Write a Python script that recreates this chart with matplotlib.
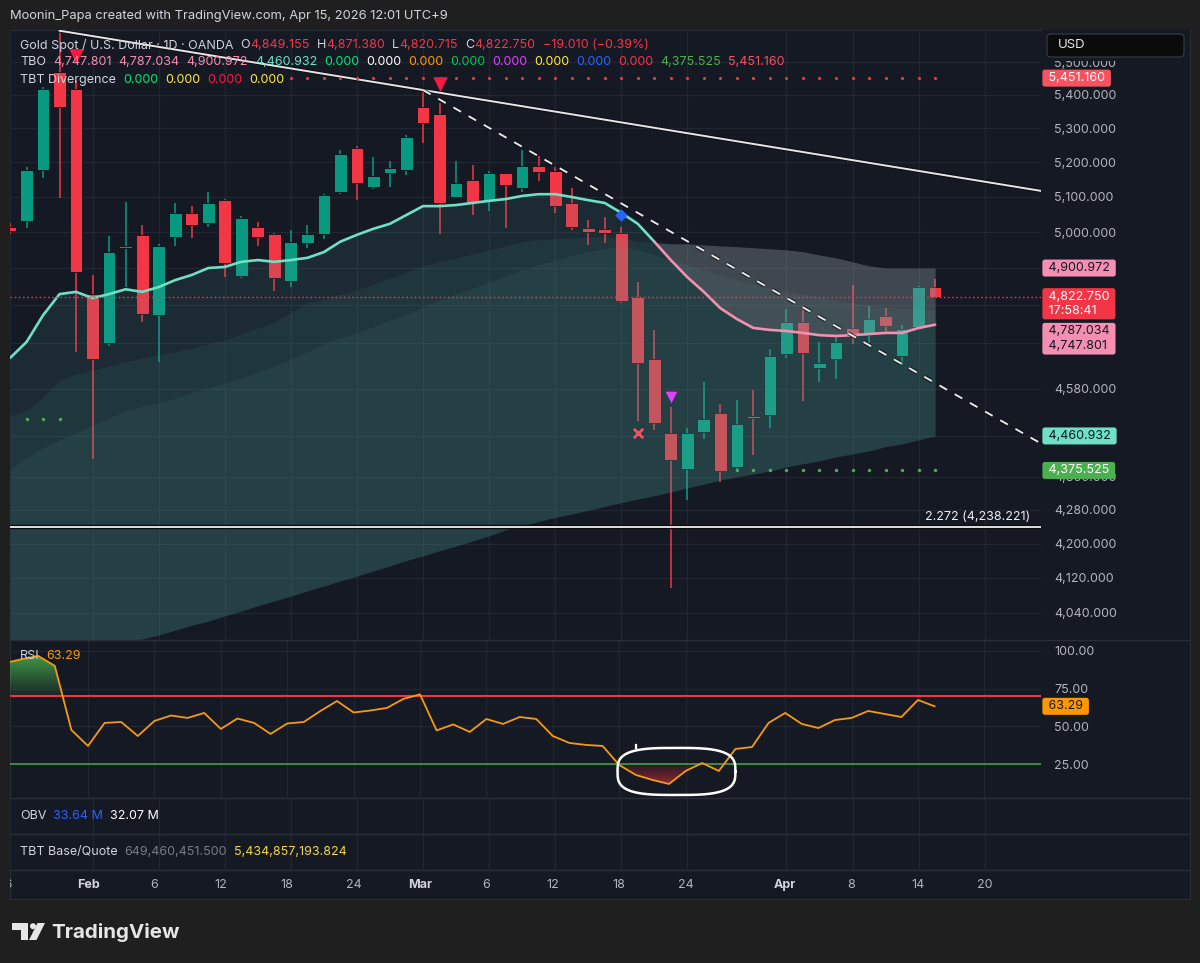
import numpy as np
import matplotlib
matplotlib.use("Agg")
import matplotlib.pyplot as plt
import matplotlib.ticker as mticker
import matplotlib.patheffects as pe
from matplotlib.path import Path
from matplotlib.patches import Rectangle, Polygon, Circle, FancyBboxPatch
from matplotlib.colors import to_rgb

plt.rcParams['font.family'] = ['Inter', 'DejaVu Sans']

# ---------------- data ----------------
dates = ["Jan 26", "Jan 27", "Jan 28", "Jan 29", "Jan 30", "Feb 2", "Feb 3", "Feb 4", "Feb 5", "Feb 6",
         "Feb 9", "Feb 10", "Feb 11", "Feb 12", "Feb 13", "Feb 16", "Feb 17", "Feb 18", "Feb 19", "Feb 20",
         "Feb 23", "Feb 24", "Feb 25", "Feb 26", "Feb 27", "Mar 2", "Mar 3", "Mar 4", "Mar 5", "Mar 6",
         "Mar 9", "Mar 10", "Mar 11", "Mar 12", "Mar 13", "Mar 16", "Mar 17", "Mar 18", "Mar 19", "Mar 20",
         "Mar 23", "Mar 24", "Mar 25", "Mar 26", "Mar 27", "Mar 30", "Mar 31", "Apr 1", "Apr 2", "Apr 6",
         "Apr 7", "Apr 8", "Apr 9", "Apr 10", "Apr 13", "Apr 14", "Apr 15"]
opens = [5015, 5032, 5178, 5470, 5418, 4830, 4699, 4957, 4993, 4773,
         4987, 5055, 5027, 5091, 4879, 5015, 4996, 4866, 4971, 4996,
         5114, 5242, 5129, 5169, 5178, 5364, 5343, 5100, 5149, 5091,
         5169, 5126, 5189, 5175, 5083, 5013, 5010, 4999, 4822, 4658,
         4468, 4379, 4471, 4518, 4384, 4511, 4514, 4670, 4754, 4634,
         4658, 4739, 4720, 4770, 4665, 4741, 4849.155]
highs = [5025, 5187, 5424, 5598, 5445, 4882, 4990, 5086, 5021, 4968,
         5083, 5074, 5114, 5094, 5046, 5029, 4999, 5007, 5021, 5108,
         5236, 5248, 5215, 5204, 5280, 5415, 5376, 5204, 5192, 5175,
         5169, 5236, 5218, 5187, 5126, 5035, 5043, 5015, 4863, 4734,
         4534, 4481, 4598, 4541, 4552, 4577, 4684, 4789, 4798, 4702,
         4715, 4855, 4798, 4792, 4747, 4852, 4871.380]
lows = [4995, 5013, 5155, 5097, 4676, 4404, 4691, 4849, 4754, 4650,
        4962, 4985, 5015, 4876, 4873, 4962, 4838, 4849, 4957, 4982,
        5108, 5091, 5123, 5129, 5163, 5257, 4996, 5100, 5049, 5060,
        5013, 5114, 5146, 5055, 5007, 4965, 4971, 4806, 4498, 4476,
        4096, 4304, 4453, 4347, 4372, 4414, 4481, 4660, 4549, 4598,
        4606, 4697, 4699, 4728, 4642, 4738, 4820.715]
closes = [5005, 5178, 5418, 5364, 4891, 4658, 4946, 4962, 4776, 4962,
          5055, 5021, 5083, 4915, 5040, 4987, 4874, 4973, 4996, 5105,
          5224, 5140, 5160, 5184, 5274, 5316, 5083, 5140, 5083, 5169,
          5134, 5189, 5172, 5074, 5015, 5002, 4999, 4811, 4647, 4493,
          4401, 4468, 4503, 4374, 4491, 4506, 4665, 4754, 4673, 4647,
          4702, 4718, 4763, 4744, 4736, 4849, 4822.750]

# TBO lines
tbo_fast = [4660, 4702, 4773, 4830, 4836, 4819, 4830, 4843, 4836, 4849,
            4868, 4882, 4901, 4904, 4918, 4923, 4918, 4923, 4929, 4945,
            4974, 4993, 5010, 5024, 5049, 5074, 5074, 5077, 5083, 5089,
            5094, 5103, 5108, 5108, 5100, 5091, 5083, 5055, 5024, 4974,
            4923, 4876, 4836, 4792, 4763, 4739, 4734, 4731, 4726, 4720,
            4718, 4720, 4723, 4726, 4726, 4739, 4747.801]
tbo_upper = [4511, 4526, 4559, 4603, 4618, 4629, 4639, 4650, 4660, 4668,
             4676, 4686, 4697, 4707, 4723, 4739, 4755, 4781, 4806, 4816,
             4830, 4841, 4857, 4873, 4890, 4907, 4918, 4929, 4940, 4951,
             4962, 4974, 4979, 4982, 4985, 4987, 4987, 4985, 4974, 4971,
             4968, 4968, 4965, 4962, 4960, 4957, 4954, 4951, 4946, 4937,
             4929, 4918, 4907, 4901, 4901, 4901, 4900.972]
tbo_mid = [4377, 4406, 4431, 4451, 4468, 4488, 4506, 4524, 4536, 4544,
           4557, 4570, 4582, 4595, 4608, 4624, 4639, 4658, 4676, 4697,
           4712, 4726, 4742, 4760, 4776, 4795, 4814, 4830, 4846, 4862,
           4879, 4896, 4910, 4923, 4935, 4946, 4954, 4960, 4951, 4937,
           4923, 4910, 4896, 4882, 4868, 4857, 4846, 4838, 4830, 4822,
           4814, 4806, 4800, 4795, 4792, 4789, 4787.034]
tbo_lower = [3869, 3884, 3899, 3917, 3931, 3946, 3957, 3971, 3981, 3990,
             4001, 4012, 4021, 4033, 4044, 4056, 4067, 4078, 4090, 4101,
             4113, 4124, 4136, 4148, 4160, 4171, 4183, 4194, 4206, 4218,
             4232, 4242, 4252, 4262, 4270, 4279, 4288, 4297, 4306, 4314,
             4323, 4333, 4342, 4352, 4360, 4367, 4374, 4384, 4392, 4399,
             4409, 4416, 4424, 4434, 4441, 4451, 4460.932]

support_left_idx = [1, 2, 3]
support_left_val = 4503
support_idx = list(range(44, 57))
support_val = 4375.525
resist_idx = list(range(17, 57))
resist_val = 5451.160

sell_tri_idx = [4, 26]
sell_tri_val = [5519, 5433]
div_tri_idx = [40]
div_tri_val = [4559]
diamond_idx = [37]
diamond_val = [5049]
cross_idx = [38]
cross_val = [4468]

trend_a = (3, 5598.0, 25, 5415.0)      # solid trendline anchors (idx, price)
trend_b = (25, 5415.0, 32, 5218.0)     # dashed trendline anchors
fib_level = 4238.221
last_price = 4822.750

rsi = [92.0, 94.5, 96.7, 90.1, 47.6, 37.0, 52.3, 52.9, 43.6, 53.6,
       57.2, 55.6, 58.9, 48.3, 55.2, 52.3, 45.0, 51.9, 52.9, 60.2,
       66.8, 59.2, 60.5, 62.2, 68.2, 71.2, 47.3, 51.3, 46.3, 54.9,
       51.6, 56.2, 54.9, 43.6, 39.0, 37.7, 37.0, 24.4, 17.8, 14.5,
       11.8, 20.4, 25.7, 20.4, 35.0, 36.3, 52.3, 58.9, 51.6, 48.9,
       54.2, 55.6, 60.2, 58.2, 56.2, 67.5, 63.29]
rsi_upper, rsi_lower = 70, 25
circle_box = (36.9, 44.0, 4.5, 35.7)   # hand-drawn mark: x0, x1, y0, y1 (bar idx / RSI)

price_ticks = [5500, 5400, 5300, 5200, 5100, 5000, 4900, 4800, 4700, 4580,
               4460, 4360, 4280, 4200, 4120, 4040]
hidden_ticks = [4900, 4800, 4700, 4460]   # covered by the value labels
rsi_ticks = [100, 75, 50, 25]
xtick_idx = [0, 5, 9, 13, 17, 21, 25, 29, 33, 37, 41, 47, 51, 55, 59]
xtick_lab = ["26", "Feb", "6", "12", "18", "24", "Mar", "6", "12", "18", "24", "Apr", "8", "14", "20"]

# ---------------- styling ----------------
W, H = 1200, 963
BG = '#151924'
GRID = '#222632'
SEP = '#2a2e39'
TXT = '#d1d4dc'
AXT = '#b2b5be'
UP = '#089981'
DN = '#f23645'
PINK = '#f48fb1'
TEALL = '#6ee0c4'

fig = plt.figure(figsize=(W / 100, H / 100), dpi=100)
fig.patch.set_facecolor('#1f1f1f')


def rect(x0, y0, x1, y1):
    return [x0 / W, 1 - y1 / H, (x1 - x0) / W, (y1 - y0) / H]


fig.add_artist(Rectangle((10 / W, 1 - 899 / H), 1180 / W, 869 / H, transform=fig.transFigure,
                         facecolor=BG, edgecolor=SEP, lw=0.8, zorder=-5))

xs = np.arange(len(dates))
XL = (0.301, 62.41)
o = np.array(opens, float); h = np.array(highs, float)
l = np.array(lows, float); c = np.array(closes, float)
ma = np.array(tbo_fast, float); up = np.array(tbo_upper, float)
mid = np.array(tbo_mid, float); low = np.array(tbo_lower, float)


def style_pane(a):
    a.set_facecolor('none')
    a.set_xlim(*XL)
    for s in a.spines.values():
        s.set_visible(False)
    a.set_xticks(xtick_idx)
    a.tick_params(axis='x', length=0, labelbottom=False)
    a.grid(True, color=GRID, lw=0.9)
    a.set_axisbelow(True)


# ---------------- price pane ----------------
ax = fig.add_axes(rect(10, 30, 1041, 640))
style_pane(ax)
ax.set_yscale('log')
ax.set_ylim(3979.0, 5600.2)
ax.yaxis.set_major_locator(mticker.FixedLocator(price_ticks))
ax.yaxis.set_minor_locator(mticker.NullLocator())
ax.yaxis.set_major_formatter(mticker.FixedFormatter(
    ["" if v in hidden_ticks else f"{v:,.3f}" for v in price_ticks]))
ax.yaxis.tick_right()
ax.tick_params(axis='y', length=0, pad=9.5, labelsize=9, labelcolor=AXT)

col = np.where(c >= o, UP, DN)
ax.vlines(xs, l, h, colors=col, lw=1.1, zorder=2)
bot = np.minimum(o, c); top = np.maximum(o, c)
ax.bar(xs, top - bot, bottom=bot, width=0.77, color=col, edgecolor='#0d1017', linewidth=0.6, zorder=2.1)

TEAL = '#50aaa0'
ax.fill_between(xs, low, ma, color=TEAL, alpha=0.12, lw=0, zorder=3)
ax.fill_between(xs, low, up, color=TEAL, alpha=0.095, lw=0, zorder=3)
ax.fill_between(xs, low, mid, color=TEAL, alpha=0.085, lw=0, zorder=3)
ax.fill_between(xs, ma, up, where=ma < up, interpolate=True, color='#9598a1', alpha=0.3, lw=0, zorder=3)

ax.plot(xs[:40], ma[:40], color=TEALL, lw=1.9, zorder=4, solid_capstyle='round')
ax.plot(xs[39:], ma[39:], color=PINK, lw=1.9, zorder=4, solid_capstyle='round')

ax.axhline(last_price, color=DN, lw=1.0, ls=(0, (1.2, 1.8)), zorder=4)

outline = [pe.Stroke(linewidth=3.0, foreground='#0a0c10', alpha=0.7), pe.Normal()]


def ext_line(anch, x_end):
    i0, p0, i1, p1 = anch
    xx = np.array([i0, x_end])
    lp = np.log(p0) + (xx - i0) * (np.log(p1) - np.log(p0)) / (i1 - i0)
    return xx, np.exp(lp)


lx, ly = ext_line(trend_a, XL[1])
ax.plot(lx, ly, color='#e6e6e6', lw=1.4, zorder=4.5, path_effects=outline)
lx, ly = ext_line(trend_b, XL[1])
ax.plot(lx, ly, color='#e6e6e6', lw=1.4, dashes=(4.5, 4.5), zorder=4.5, path_effects=outline)

ax.axhline(fib_level, color='#f0f0f0', lw=1.3, zorder=4.5,
           path_effects=[pe.Stroke(linewidth=3.2, foreground='#0a0c10'), pe.Normal()])
ax.annotate("2.272 (4,238.221)", xy=(0.9895, fib_level), xycoords=('axes fraction', 'data'),
            xytext=(0, 3), textcoords='offset points', ha='right', va='bottom',
            color='#f0f0f0', fontsize=9, zorder=6)

ax.scatter(support_left_idx, [support_left_val] * len(support_left_idx), s=6, color='#4caf50', zorder=5, lw=0)
ax.scatter(support_idx, [support_val] * len(support_idx), s=6, color='#4caf50', zorder=5, lw=0)
ax.scatter(resist_idx, [resist_val] * len(resist_idx), s=5, color='#f23645', zorder=5, lw=0)
ax.scatter(sell_tri_idx, sell_tri_val, marker='v', s=110, color='#ff1744', zorder=6, lw=0)
ax.scatter(div_tri_idx, div_tri_val, marker='v', s=70, color='#e040fb', zorder=6, lw=0)
ax.scatter(diamond_idx, diamond_val, marker='D', s=40, color='#2962ff', zorder=6, lw=0)
ax.scatter(cross_idx, cross_val, marker='x', s=45, color='#f7525f', zorder=6, linewidths=2)


def plabel(a, p, s, bg, fg, dy_px=0, ls=1.25):
    a.annotate(s, xy=(1.0, p), xycoords=('axes fraction', 'data'),
               xytext=(2.8, -dy_px * 0.72), textcoords='offset points', ha='left', va='center',
               fontsize=9, color=fg, linespacing=ls, annotation_clip=False, zorder=8,
               bbox=dict(boxstyle='round,pad=0.2,rounding_size=0.2', fc=bg, ec='none'))


plabel(ax, resist_val, " 5,451.160 ", '#f7525f', '#ffffff')
plabel(ax, 4900.972, " 4,900.972 ", PINK, '#131722')
plabel(ax, last_price, " 4,822.750 \n 17:58:41", DN, '#ffffff', dy_px=7.0)
plabel(ax, 4747.801, " 4,787.034 \n 4,747.801 ", PINK, '#131722', dy_px=14, ls=1.3)
plabel(ax, 4460.932, " 4,460.932 ", TEALL, '#131722')
plabel(ax, support_val, " 4,375.525 ", '#4caf50', '#ffffff')

# ---------------- RSI pane ----------------
axr = fig.add_axes(rect(10, 641, 1041, 798))
style_pane(axr)
rs = np.array(rsi, float)
axr.set_ylim(2.5, 106.6)
axr.set_yticks(rsi_ticks)
axr.set_yticklabels([f"{v:.2f}" for v in rsi_ticks])
axr.yaxis.tick_right()
axr.tick_params(axis='y', length=0, pad=9.5, labelsize=9, labelcolor=AXT)


def grad_clip(a, coll, color, y_strong, y_weak, a_strong, a_weak, x0, x1):
    paths = [p for p in coll.get_paths() if len(p.vertices)]
    if not paths:
        return
    path = Path.make_compound_path(*paths)
    n = 120
    ylo, yhi = min(y_strong, y_weak), max(y_strong, y_weak)
    yv = np.linspace(ylo, yhi, n)
    al = a_weak + (a_strong - a_weak) * (yv - y_weak) / (y_strong - y_weak)
    rgba = np.zeros((n, 1, 4))
    rgba[..., :3] = to_rgb(color)
    rgba[:, 0, 3] = np.clip(al, 0, 1)
    im = a.imshow(rgba, extent=[x0, x1, ylo, yhi], origin='lower', aspect='auto',
                  zorder=2, interpolation='bilinear')
    im.set_clip_path(path, transform=a.transData)


cg = axr.fill_between(xs, rsi_upper, rs, where=rs > rsi_upper, interpolate=True, facecolor='none', edgecolor='none')
grad_clip(axr, cg, '#43a047', 97, rsi_upper, 0.95, 0.08, -1, 8)
cr = axr.fill_between(xs, rsi_lower, rs, where=rs < rsi_lower, interpolate=True, facecolor='none', edgecolor='none')
grad_clip(axr, cr, '#c62838', 11, rsi_lower, 0.75, 0.05, 34, 46)
axr.set_xlim(*XL)
axr.set_ylim(2.5, 106.6)

axr.axhline(rsi_upper, color='#e33a46', lw=1.5, zorder=3)
axr.axhline(rsi_lower, color='#43a047', lw=1.2, zorder=3)
axr.plot(xs, rs, color='#f59a12', lw=1.3, zorder=4)

x0, x1, y0, y1 = circle_box
t = np.linspace(0, 2 * np.pi, 300)
cx, cy, aa, bb = (x0 + x1) / 2, (y0 + y1) / 2, (x1 - x0) / 2, (y1 - y0) / 2
nexp = 3.2
ex = cx + aa * np.sign(np.cos(t)) * np.abs(np.cos(t)) ** (2 / nexp)
ey = cy + bb * np.sign(np.sin(t)) * np.abs(np.sin(t)) ** (2 / nexp)
axr.plot(ex, ey, color='white', lw=1.8, zorder=5)
axr.plot([38.0, 38.0], [y1, y1 + 2.2], color='white', lw=1.6, zorder=5)

plabel(axr, rsi[-1], " 63.29 ", '#ff9800', '#131722')

# ---------------- OBV / TBT panes ----------------
for (ya, yb) in [(799, 834), (835, 870)]:
    a = fig.add_axes(rect(10, ya, 1041, yb))
    style_pane(a)
    a.set_ylim(0, 1)
    a.set_yticks([])
    a.grid(True, axis='x', color=GRID, lw=0.9)

# ---------------- x axis ----------------
axx = fig.add_axes(rect(10, 871, 1041, 899))
axx.set_xlim(*XL); axx.set_ylim(0, 1)
axx.axis('off')
for i, lab in zip(xtick_idx, xtick_lab):
    month = lab.isalpha()
    tt = axx.text(i, 0.5, lab, ha='center', va='center', fontsize=9,
                  color='#d1d4dc' if month else AXT, fontweight='bold' if month else 'normal')
    tt.set_clip_on(True)
    tt.set_clip_box(axx.bbox)

# ---------------- overlay (texts, separators, logo) ----------------
axo = fig.add_axes([0, 0, 1, 1])
axo.set_xlim(0, W); axo.set_ylim(H, 0)
axo.axis('off')
axo.set_zorder(10)
axo.patch.set_alpha(0)

for yy in [640.5, 798.5, 834.5, 870.5]:
    axo.plot([10, 1190], [yy, yy], color=SEP, lw=1.0)

# price-scale header strip (hides the top of the scale under the currency button)
axo.add_patch(Rectangle((1042, 30.5), 147.5, 30.5, fc=BG, ec='none'))
axo.add_patch(FancyBboxPatch((1047, 34), 137, 23, boxstyle='round,pad=0,rounding_size=4',
                             fc='#0b0b0c', ec='#3a3d45', lw=0.8))
axo.text(1058, 45.5, "USD", color='#e8e8e8', fontsize=9.5, ha='left', va='center')

axo.text(10, 16, "Moonin_Papa created with TradingView.com, Apr 15, 2026 12:01 UTC+9",
         color=TXT, fontsize=9.3, ha='left', va='center')


def chain(x, y, parts, fs=9.0):
    prev = None
    for s, colr, gap in parts:
        if prev is None:
            prev = axo.text(x, y, s, color=colr, fontsize=fs, ha='left', va='center')
        else:
            prev = axo.annotate(s, xy=(1, 0.5), xycoords=prev, xytext=(gap, 0),
                                textcoords='offset points', color=colr, fontsize=fs,
                                ha='left', va='center')


G = 5.0
chain(20, 45, [("Gold Spot / U.S. Dollar · 1D · OANDA", TXT, 0),
               ("O", TXT, G), ("4,849.155", DN, 0.3), ("H", TXT, G), ("4,871.380", DN, 0.3),
               ("L", TXT, G), ("4,820.715", DN, 0.3), ("C", TXT, G), ("4,822.750", DN, 0.3),
               ("−19.010 (−0.39%)", DN, G)])
chain(20, 62, [("TBO", TXT, 0), ("4,747.801", PINK, G), ("4,787.034", PINK, G), ("4,900.972", PINK, G),
               ("4,460.932", TEALL, G), ("0.000", '#00e676', G), ("0.000", '#ffffff', G),
               ("0.000", '#ff9800', G), ("0.000", '#00c853', G), ("0.000", '#e040fb', G),
               ("0.000", '#ffeb3b', G), ("0.000", '#2962ff', G), ("0.000", '#f23645', G),
               ("4,375.525", '#4caf50', G), ("5,451.160", '#f7525f', G)])
chain(20, 80, [("TBT Divergence", TXT, 0), ("0.000", '#00e676', G), ("0.000", '#ffeb3b', G),
               ("0.000", '#ff1744', G), ("0.000", '#ffeb3b', G)])
chain(20, 656, [("RSI", TXT, 0), ("63.29", '#ff9800', G)])
chain(20, 816, [("OBV", TXT, 0), ("33.64 M", '#2962ff', G), ("32.07 M", '#ffffff', G)])
chain(20, 852, [("TBT Base/Quote", TXT, 0), ("649,460,451.500", '#787b86', G),
                ("5,434,857,193.824", '#f5d742', G)])

# TradingView logo
LOGO = '#e6e6e6'
axo.add_patch(Polygon([(12, 923), (28, 923), (28, 940), (21, 940), (21, 930), (12, 930)], closed=True, fc=LOGO, ec='none'))
axo.add_patch(Circle((33, 926.2), 3.0, fc=LOGO, ec='none'))
axo.add_patch(Polygon([(37.5, 923), (45, 923), (36.5, 940), (29, 940)], closed=True, fc=LOGO, ec='none'))
axo.text(51, 932, "TradingView", color=LOGO, fontsize=14.8, fontweight='bold', ha='left', va='center')

fig.savefig("out.png", dpi=100, facecolor=fig.get_facecolor())
